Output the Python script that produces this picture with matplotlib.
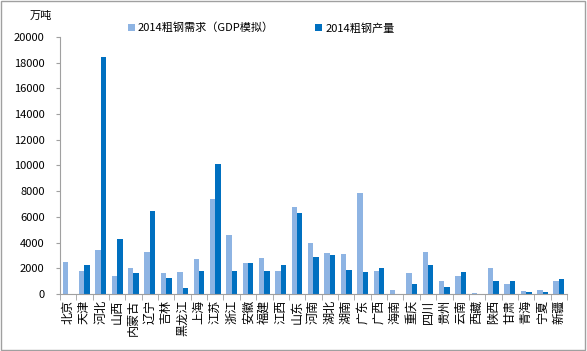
import numpy as np
import matplotlib.pyplot as plt
from matplotlib.patches import Rectangle

plt.rcParams['font.family'] = ['Noto Sans CJK SC', 'DejaVu Sans']

provinces = ['北京', '天津', '河北', '山西', '内蒙古', '辽宁', '吉林', '黑龙江',
             '上海', '江苏', '浙江', '安徽', '福建', '江西', '山东', '河南',
             '湖北', '湖南', '广东', '广西', '海南', '重庆', '四川', '贵州',
             '云南', '西藏', '陕西', '甘肃', '青海', '宁夏', '新疆']
demand = [2470, 1820, 3400, 1430, 2030, 3300, 1610, 1740,
          2700, 7430, 4620, 2440, 2780, 1800, 6800, 4000,
          3170, 3100, 7860, 1800, 360, 1640, 3300, 1060,
          1430, 100, 2030, 750, 260, 300, 1060]
output = [0, 2290, 18450, 4290, 1640, 6440, 1220, 470,
          1770, 10150, 1770, 2440, 1800, 2230, 6330, 2860,
          3040, 1900, 1700, 2050, 0, 750, 2230, 550,
          1690, 0, 1000, 1060, 130, 180, 1200]

light = '#8EB4E3'
dark = '#0070C0'

fig = plt.figure(figsize=(5.87, 3.51), dpi=100)
ax = fig.add_axes([0.102, 0.162, 0.864, 0.733])

x = np.arange(len(provinces))
w = 0.33
ax.bar(x - w / 2, demand, w, color=light, label='2014粗钢需求（GDP模拟）')
ax.bar(x + w / 2, output, w, color=dark, label='2014粗钢产量')

ax.set_xlim(-0.5, len(provinces) - 0.5)
ax.set_ylim(0, 20000)
ax.set_yticks(np.arange(0, 20001, 2000))
ax.tick_params(axis='y', labelsize=8, length=3, color='#a0a0a0', pad=8)

ax.set_xticks(x)
ax.set_xticklabels(provinces, rotation=90, fontsize=8.7)
ax.tick_params(axis='x', length=0, pad=4)
ax.set_xticks(np.arange(-0.5, len(provinces), 1), minor=True)
ax.tick_params(axis='x', which='minor', length=4, color='#a0a0a0')

for s in ['top', 'right']:
    ax.spines[s].set_visible(False)
for s in ['left', 'bottom']:
    ax.spines[s].set_color('#a0a0a0')

fig.text(0.05, 0.955, '万吨', fontsize=8, ha='left', va='center')

fig.legend(loc='center', bbox_to_anchor=(0.445, 0.92), ncol=2, frameon=False,
           fontsize=8, handlelength=0.6, handleheight=0.6, columnspacing=3.7,
           handletextpad=0.3)

fig.patches.append(Rectangle((0.002, 0.003), 0.995, 0.994, transform=fig.transFigure,
                             fill=False, edgecolor='#a0a0a0', lw=1))

fig.savefig('out.png', dpi=100)
